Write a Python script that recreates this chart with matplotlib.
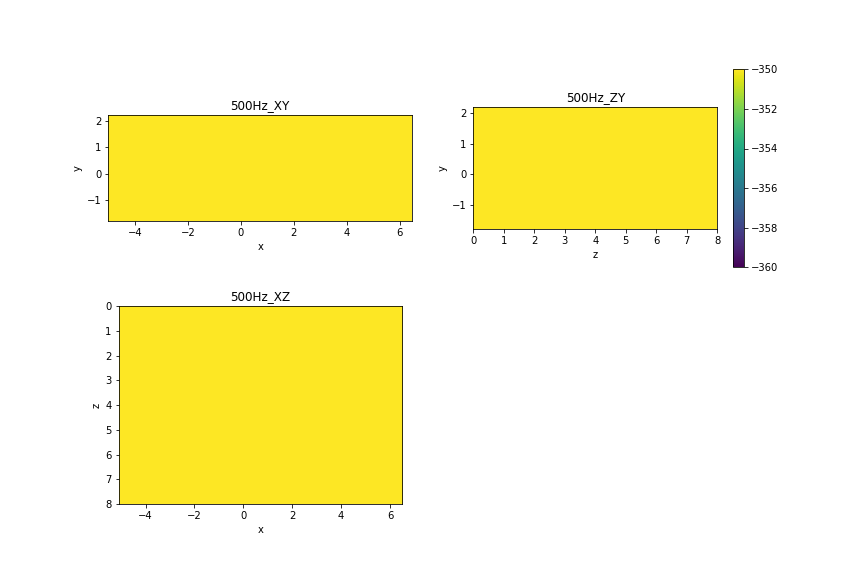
import matplotlib
matplotlib.use("Agg")
import matplotlib.pyplot as plt
import numpy as np

# Data: uniform field slices (all values at/above colour maximum)
xy_values = [[-350.0, -350.0], [-350.0, -350.0]]
zy_values = [[-350.0, -350.0], [-350.0, -350.0]]
xz_values = [[-350.0, -350.0], [-350.0, -350.0]]

x_range = [-5.0, 6.47]
x_range_xz = [-5.1, 6.5]
y_range = [-1.8, 2.22]
z_range = [0.0, 8.0]

titles = ["500Hz_XY", "500Hz_ZY", "500Hz_XZ"]
vmin, vmax = -360, -350
cbar_ticks = [-360, -358, -356, -354, -352, -350]

W, H = 864, 576
fig = plt.figure(figsize=(12, 8), dpi=72)

def px_axes(l, t, r, b):
    return fig.add_axes([l / W, 1 - b / H, (r - l) / W, (b - t) / H])

ax_xy = px_axes(108.3, 115.0, 412.3, 221.0)
ax_zy = px_axes(473.3, 107.3, 717.3, 229.0)
ax_xz = px_axes(118.7, 306.3, 402.3, 504.0)
cax = px_axes(732.5, 69.3, 743.5, 267.3)

im = ax_xy.imshow(np.array(xy_values), cmap="viridis", vmin=vmin, vmax=vmax,
                  origin="lower", extent=[x_range[0], x_range[1], y_range[0], y_range[1]],
                  aspect="auto")
ax_xy.set_title(titles[0])
ax_xy.set_xlabel("x")
ax_xy.set_ylabel("y")

ax_zy.imshow(np.array(zy_values), cmap="viridis", vmin=vmin, vmax=vmax,
             origin="lower", extent=[z_range[0], z_range[1], y_range[0] , y_range[1] - 0.02],
             aspect="auto")
ax_zy.set_title(titles[1])
ax_zy.set_xlabel("z")
ax_zy.set_ylabel("y")

ax_xz.imshow(np.array(xz_values), cmap="viridis", vmin=vmin, vmax=vmax,
             origin="upper", extent=[x_range_xz[0], x_range_xz[1], z_range[1], z_range[0]],
             aspect="auto")
ax_xz.set_title(titles[2])
ax_xz.set_xlabel("x")
ax_xz.set_ylabel("z")

cb = fig.colorbar(im, cax=cax)
cb.set_ticks(cbar_ticks)

fig.savefig("out.png", dpi=72)
